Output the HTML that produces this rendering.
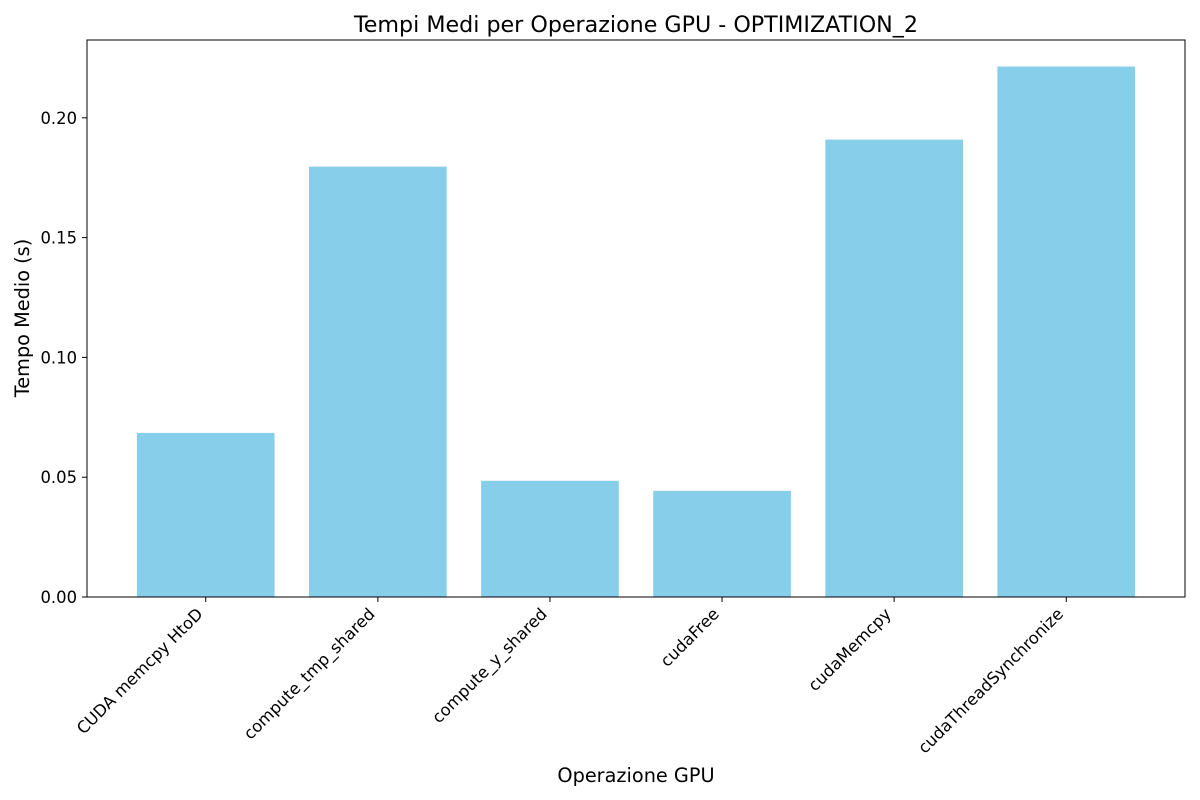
<!DOCTYPE html>
<html><head><meta charset="utf-8"><style>
html,body{margin:0;padding:0;background:#fff;}
svg{display:block;font-family:"DejaVu Sans","Liberation Sans",sans-serif;}
</style></head><body>
<svg id="chart" width="1200" height="800" xmlns="http://www.w3.org/2000/svg">
<rect width="1200" height="800" fill="#fff"/>
<text x="636" y="32" font-size="22.2" text-anchor="middle">Tempi Medi per Operazione GPU - OPTIMIZATION_2</text>
<text x="636" y="782" font-size="19.3" text-anchor="middle">Operazione GPU</text>
<text transform="translate(29,318) rotate(-90)" font-size="19.3" text-anchor="middle">Tempo Medio (s)</text>
<g id="bars"></g><g id="xticks"></g><g id="yticks"></g>
<rect x="87" y="40" width="1098" height="557" fill="none" stroke="#000" stroke-width="1"/>
</svg>
<script>
const categories = ["CUDA memcpy HtoD","compute_tmp_shared","compute_y_shared","cudaFree","cudaMemcpy","cudaThreadSynchronize"];
const values = [0.0685,0.1796,0.0485,0.0443,0.1909,0.2214];
const yTicks = [0,0.05,0.10,0.15,0.20];
const yTickLabels = ["0.00","0.05","0.10","0.15","0.20"];

const L=87,R=1185,T=40,B=597;
const yMax=Math.max(...values)*1.05;
const xMin=-0.4-0.29, xMax=categories.length-1+0.4+0.29;
function xs(i){return L+(i-xMin)/(xMax-xMin)*(R-L);}
function ys(v){return B-v/yMax*(B-T);}
const ns="http://www.w3.org/2000/svg";
function mk(tag,attrs,parent){const e=document.createElementNS(ns,tag);for(const k in attrs)e.setAttribute(k,attrs[k]);parent.appendChild(e);return e;}
const bw=(xs(0.8)-xs(0));
const bars=document.getElementById('bars'),xt=document.getElementById('xticks'),yt=document.getElementById('yticks');
categories.forEach((c,i)=>{
  const b=mk('rect',{x:xs(i)-bw/2,y:ys(values[i]),width:bw,height:B-ys(values[i]),fill:'#87ceeb'},bars);
  
  
  const tk=mk('line',{x1:xs(i),x2:xs(i),y1:B,y2:B+5,stroke:'#000'},xt);
  
  
  const t=mk('text',{transform:`translate(${xs(i)-2},${B+18}) rotate(-45)`,'font-size':'16.4','text-anchor':'end'},xt);
  t.textContent=c;
  
  
});
yTicks.forEach((v,i)=>{
  const tk=mk('line',{x1:L-5,x2:L,y1:ys(v),y2:ys(v),stroke:'#000'},yt);
  
  
  const t=mk('text',{x:L-10,y:ys(v)+6,'font-size':'16.4','text-anchor':'end'},yt);
  t.textContent=yTickLabels[i];
  
  
});
</script>
</body></html>
